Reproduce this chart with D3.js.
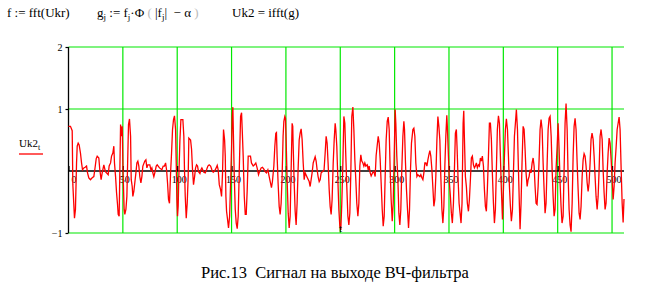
<!DOCTYPE html>
<html>
<head>
<meta charset="utf-8">
<script src="https://cdn.jsdelivr.net/npm/d3@7.9.0/dist/d3.min.js"></script>
<style>
  body { margin: 0; background: #fff; }
  svg { display: block; }
  text { font-family: "Liberation Serif", "DejaVu Serif", serif; fill: #000; white-space: pre; }
</style>
</head>
<body>
<svg id="chart" width="650" height="289"></svg>
<script>
// values (t, Uk2_t) at the turning points of the trace
const tSamples = [
  0, 1.8, 3.4, 4, 5.5, 6.4, 7.4, 8, 8.9, 9.8, 11, 12, 12.9, 14.1, 15.3, 16.6, 17.5, 18.7, 20.2, 21.8,
  23.3, 24.2, 25.5, 26.4, 27.9, 28.8, 30, 31, 32.5, 34, 36.5, 37.4, 38.7, 39.6, 40.8, 41.7, 42.3, 43.3, 44.2, 45.1,
  45.7, 46.6, 47.9, 48.8, 49.4, 50.3, 51.2, 51.8, 52.8, 53.7, 54.6, 55.2, 56.1, 57.1, 57.7, 58.6, 59.2, 60.1, 61, 62,
  62.9, 63.8, 64.7, 65.6, 66.6, 67.5, 68.4, 70.2, 71.2, 72.1, 73, 74.8, 75.8, 76.7, 77.6, 78.5, 79.4, 80.7, 81.6, 83.7,
  85.9, 87.1, 88.3, 89.3, 90.2, 91.1, 92, 92.9, 93.9, 94.8, 95.7, 96.6, 97.5, 98.5, 99.1, 99.7, 100.3, 100.9, 101.5, 102.5,
  103.4, 105.2, 106.1, 106.7, 107.4, 108.3, 109.2, 110.1, 110.7, 112.3, 113.2, 114.1, 115, 116, 116.9, 117.8, 118.7, 119.6, 120.9, 121.8,
  122.7, 124.5, 125.8, 127, 128.2, 129.4, 130.7, 131.9, 133.1, 134.4, 135.3, 136.8, 137.7, 138.7, 139.9, 140.8, 141.7, 142.6, 143.6, 144.2,
  144.8, 145.4, 146.3, 147.2, 148.2, 149.1, 150, 150.6, 151.2, 151.8, 152.5, 153.4, 154.3, 155.2, 156.1, 157.1, 158.3, 159.2, 159.8, 160.7,
  161.7, 162.6, 163.5, 164.4, 165.3, 167.4, 168.3, 169.9, 171.1, 172.3, 173.5, 174.8, 175.7, 177.2, 178.4, 179.7, 180.9, 182.1, 183.4, 184.6,
  185.8, 186.7, 187.6, 188.9, 189.8, 190.7, 191.3, 191.9, 192.8, 193.8, 194.7, 195.6, 196.5, 197.4, 198.1, 199, 199.6, 200.2, 201.1, 202.1,
  203, 203.9, 204.8, 205.7, 206.3, 206.6, 207.6, 208.5, 209.4, 210.3, 211.2, 212.2, 213.1, 214, 214.9, 215.9, 216.8, 217.7, 219.5, 221.4,
  222.3, 223.2, 224.1, 225.1, 226.9, 227.8, 228.7, 229.6, 230.6, 231.5, 232.4, 234.3, 235.1, 236.1, 237, 237.9, 238.8, 239.8, 240.7, 241.6,
  242.5, 243.5, 244.4, 245.3, 245.9, 246.8, 247.8, 248.7, 249.6, 250.5, 251.4, 252.4, 253.3, 254.2, 255.1, 256, 257, 257.9, 258.8, 259.7,
  260.6, 261.6, 262.5, 263.4, 264.3, 265.2, 266.2, 267.1, 268, 268.9, 269.8, 270.8, 271.7, 272.6, 273.5, 274.8, 275.7, 276.6, 277.5, 278.4,
  279.4, 280.3, 281.2, 282.1, 283, 283.9, 284.9, 285.8, 286.7, 287.6, 288.6, 289.5, 290.4, 291.3, 292.2, 293.2, 294.1, 295, 295.9, 296.8,
  297.8, 298.7, 299.6, 300.5, 301.1, 302, 303, 303.9, 304.8, 305.7, 306.6, 307.6, 308.5, 309.1, 310, 310.9, 311.8, 312.8, 313.7, 314.6,
  315.5, 316.8, 317.7, 318.6, 319.5, 320.5, 321.4, 323.2, 324.1, 325.1, 326, 326.9, 327.8, 328.7, 329.7, 330.6, 331.5, 332.4, 333.3, 334.3,
  335.2, 336.1, 337, 337.9, 338.9, 339.8, 340.7, 341.6, 342.5, 343.5, 344.4, 345.3, 346.2, 347.1, 348, 348.5, 349.5, 350.4, 351.3, 352.2,
  353.1, 354.1, 355, 355.9, 356.8, 357.4, 358.4, 359.3, 360.2, 361.1, 362, 363, 363.6, 364.2, 365.1, 366, 366.9, 367.9, 368.8, 369.7,
  370.6, 371.5, 372.5, 373.4, 374.3, 375.2, 376.1, 377.1, 378, 378.9, 379.8, 380.7, 381.7, 382.6, 383.5, 384.4, 385.3, 386.3, 387.2, 388.1,
  389, 389.9, 390.9, 391.8, 392.7, 393.6, 394.5, 395.5, 396.4, 397.3, 398.2, 399.2, 400.1, 401, 401.9, 402.8, 403.8, 404.7, 405.6, 406.5,
  407.4, 408.4, 409.3, 410.2, 411.1, 412, 413, 413.9, 414.8, 415.4, 416.3, 417.2, 418.2, 419.1, 420, 420.9, 421.9, 422.8, 423.7, 424.6,
  425.5, 426.5, 427.4, 428.3, 429.2, 430.1, 431, 432, 432.9, 433.8, 434.7, 435.7, 436.6, 437.5, 438.4, 439.3, 440.3, 441.2, 442.1, 443,
  444, 444.9, 445.8, 446.7, 447.6, 448.5, 449.5, 450.4, 451.3, 452.2, 453.1, 454, 455, 455.9, 456.8, 457.7, 458.7, 459.6, 460.5, 461.4,
  462.3, 463.3, 464.2, 465.1, 466, 466.9, 467.9, 468.8, 469.7, 470.6, 471.5, 472.5, 473.4, 474.3, 475.2, 476.1, 477.1, 478, 478.9, 479.8,
  480.7, 481.6, 482.6, 483.5, 484.4, 485.3, 486.3, 487.2, 488.1, 489, 489.9, 490.9, 491.8, 492.7, 493.6, 494.5, 495.5, 496.4, 497.3, 498.2,
  499.2, 500.1, 501, 501.9, 502.8, 503.8, 504.7, 505.6, 506.5, 507.4, 508.4, 509.3, 510.2, 511
];
const uk2Values = [
  0.72, 0.72, 0.65, -0.22, -0.76, -0.62, 0.13, 0.4, 0.45, 0.42, 0.29, 0.13, 0.02, 0.05, 0.06, 0.08, -0.03, -0.11, -0.14, -0.11,
  -0.09, 0.02, 0.2, 0.24, 0.21, 0.02, -0.14, -0.03, 0.1, -0.01, -0.06, 0.08, 0.13, 0.24, 0.29, 0.4, 0.13, -0.09, -0.35, -0.54,
  -0.7, -0.73, 0.75, 0.56, 0.72, -0.09, -0.62, -0.7, -0.62, -0.41, 0.29, 0.75, 0.84, 0.56, -0.14, -0.25, -0.41, -0.33, -0.19, -0.03,
  0.13, 0.16, 0.08, -0.09, -0.19, -0.09, 0.08, 0.16, 0.18, 0.05, 0.1, 0.1, 0.02, 0.05, -0.03, -0.09, -0.03, 0.08, 0.1, 0.05,
  0.02, 0.08, 0.08, 0.13, 0.02, -0.19, -0.46, -0.52, -0.03, 0.29, 0.67, 0.83, 0.89, 0.67, 0.13, -0.46, -0.73, -0.57, -0.09, 0.5,
  0.83, 0.83, 0.56, 0.02, -0.41, -0.76, -0.52, -0.09, 0.53, 0.5, 0.35, 0.02, -0.22, -0.09, 0.05, 0.1, 0.08, -0.01, -0.04, 0.02,
  0.05, -0.02, -0.03, 0.02, 0.08, 0.1, 0.08, 0.02, -0.02, 0.0, 0.03, 0.09, 0.02, -0.22, -0.3, -0.41, -0.03, 0.67, 0.5, 0.24,
  -0.41, -0.65, -0.78, -0.92, -0.73, -0.2, 0.37, 0.88, 1.03, 0.5, -0.09, -0.62, -0.84, -0.93, -0.73, 0.02, 0.88, 0.94, 0.67, 0.24,
  -0.41, -0.7, -0.7, -0.3, 0.24, 0.24, 0.13, 0.08, 0.1, 0.13, 0.05, -0.06, -0.01, 0.05, 0.06, 0.03, -0.01, -0.03, 0.02, -0.09,
  -0.19, -0.27, -0.17, 0.08, 0.4, 0.61, 0.62, 0.24, -0.19, -0.57, -0.7, -0.52, -0.09, 0.56, 0.8, 0.88, 0.85, 0.5, -0.14, -0.68,
  -0.92, -0.73, 0.02, 0.77, 0.72, 0.45, -0.19, -0.65, -0.87, -0.52, 0.02, 0.5, 0.61, 0.68, 0.51, 0.13, -0.14, -0.03, -0.1, -0.17,
  -0.25, -0.14, -0.03, 0.13, 0.23, 0.16, 0.02, -0.09, -0.17, -0.14, -0.03, 0.0, 0.02, 0.29, 0.56, 0.45, 0.13, -0.3, -0.57, -0.7,
  -0.46, 0.13, 0.5, 0.77, 0.67, 0.4, -0.14, -0.62, -0.89, -0.95, -0.52, 0.13, 0.88, 0.77, 0.24, -0.25, -0.73, -0.87, -0.68, -0.03,
  0.88, 1.03, 0.67, 0.18, -0.14, -0.52, -0.73, -0.52, 0.08, 0.26, 0.16, 0.13, 0.08, 0.13, 0.08, 0.1, 0.02, 0.08, -0.03, -0.08,
  -0.04, -0.01, -0.03, -0.09, 0.25, 0.4, 0.56, 0.45, 0.19, -0.19, -0.62, -0.89, -0.73, -0.09, 0.5, 0.8, 0.87, 0.67, 0.02, -0.46,
  -0.81, -0.52, 0.24, 0.99, 0.77, 0.24, -0.14, -0.68, -0.87, -0.62, 0.02, 0.56, 0.8, 0.67, 0.13, -0.3, -0.6, -0.92, -0.62, 0.02,
  0.45, 0.67, 0.69, 0.56, 0.13, -0.09, -0.06, -0.09, -0.06, -0.11, -0.14, -0.03, 0.13, 0.13, 0.08, 0.18, 0.26, 0.33, 0.24, 0.02,
  -0.27, -0.57, -0.46, -0.09, 0.5, 0.88, 0.72, 0.5, -0.09, -0.62, -0.84, -0.57, 0.08, 0.56, 0.9, 0.72, 0.24, -0.19, -0.41, -0.68,
  -0.84, -0.52, 0.02, 0.61, 0.67, 0.4, -0.14, -0.52, -0.68, -0.84, -0.52, 0.77, 0.97, 0.53, -0.09, -0.25, -0.52, -0.65, -0.46, -0.14,
  0.21, 0.24, 0.1, 0.05, 0.08, 0.13, 0.05, 0.1, 0.08, 0.21, 0.16, 0.24, 0.08, -0.3, -0.57, -0.65, -0.3, 0.24, 0.77, 0.77,
  0.51, -0.03, -0.52, -0.84, -0.62, 0.02, 0.67, 0.89, 0.77, 0.24, -0.3, -0.78, -0.3, 0.24, 0.67, 0.84, 0.67, 0.24, -0.25, -0.57,
  -0.81, -0.62, -0.03, 0.56, 0.77, 0.99, 0.67, 0.02, -0.57, -0.94, -0.52, 0.13, 0.72, 0.67, 0.35, -0.03, -0.25, -0.14, -0.09, 0.02,
  -0.03, 0.13, 0.21, 0.08, -0.25, -0.52, -0.54, -0.25, 0.18, 0.67, 0.83, 0.67, 0.13, -0.3, -0.68, -0.52, 0.13, 0.67, 0.85, 0.88,
  0.56, 0.02, -0.41, -0.73, -0.62, 0.02, 0.4, 0.77, 0.35, -0.19, -0.57, -0.84, -0.73, 0.02, 0.77, 1.09, 0.67, -0.09, -0.62, -0.87,
  -0.98, -0.52, 0.24, 0.72, 0.85, 0.67, 0.13, -0.3, -0.68, -0.78, -0.57, -0.09, 0.18, 0.28, 0.24, 0.08, -0.19, -0.33, -0.19, 0.13,
  0.51, 0.61, 0.51, 0.24, -0.09, -0.41, -0.62, -0.41, 0.02, 0.56, 0.67, 0.51, 0.02, -0.35, -0.62, -0.52, -0.03, 0.29, 0.53, 0.45,
  0.18, -0.14, -0.46, -0.25, 0.13, 0.4, 0.67, 0.77, 0.87, 0.67, 0.02, -0.52, -0.83, -0.45
];
const xTicks = [0, 50, 100, 150, 200, 250, 300, 350, 400, 450, 500];
const yTicks = [-1, 1, 2];
const xGrid = [50, 100, 150, 200, 250, 300, 350, 400, 450, 500];

const svg = d3.select('#chart');
const x = d3.scaleLinear().domain([0, 511]).range([68.5, 624]);
const y = d3.scaleLinear().domain([-1, 2]).range([233, 47]);
const green = '#00e800';

// formulas above the plot
svg.append('text').attr('x', 7).attr('y', 17).attr('font-size', 13).text('f := fft(Ukr)');
const gFormula = svg.append('text').attr('x', 97).attr('y', 17).attr('font-size', 13);
gFormula.append('tspan').text('g');
gFormula.append('tspan').attr('font-size', 9).attr('dy', 3).text('j');
gFormula.append('tspan').attr('dy', -3).text(' := f');
gFormula.append('tspan').attr('font-size', 9).attr('dy', 3).text('j');
gFormula.append('tspan').attr('dy', -3).text('\u00b7\u03a6');
gFormula.append('tspan').attr('fill', '#bbb').text(' ( ');
gFormula.append('tspan').text('|f');
gFormula.append('tspan').attr('font-size', 9).attr('dy', 3).text('j');
gFormula.append('tspan').attr('dy', -3).text('|  \u2212 \u03b1');
gFormula.append('tspan').attr('fill', '#bbb').text(' )');
svg.append('text').attr('x', 232).attr('y', 17).attr('font-size', 13).text('Uk2 = ifft(g)');

// grid
svg.append('g')
    .selectAll('line')
    .data(xGrid)
    .enter()
    .append('line')
    .attr('x1', (d) => x(d)).attr('x2', (d) => x(d))
    .attr('y1', y(-1)).attr('y2', y(2))
    .attr('stroke', green).attr('stroke-width', 1.2);
svg.append('g')
    .selectAll('line')
    .data(yTicks)
    .enter()
    .append('line')
    .attr('x1', x(0)).attr('x2', x(511))
    .attr('y1', (d) => y(d)).attr('y2', (d) => y(d))
    .attr('stroke', green).attr('stroke-width', 1.2);

// axes
const yAxis = svg.append('g')
    .attr('transform', `translate(${x(0)},0)`)
    .call(d3.axisLeft(y).tickValues(yTicks).tickSize(3).tickPadding(3).tickFormat(d3.format('d')));
const xAxis = svg.append('g')
    .attr('transform', `translate(0,${y(0)})`)
    .call(d3.axisBottom(x).tickValues(xTicks).tickSize(-5).tickPadding(5));
[yAxis, xAxis].forEach((a) => {
    a.select('.domain').attr('stroke', '#000').attr('stroke-width', 1.3);
    a.selectAll('.tick line').attr('stroke', '#000').attr('stroke-width', 1.2);
    a.selectAll('.tick text')
        .attr('font-family', '"Liberation Serif", serif')
        .attr('font-size', 10)
        .attr('fill', '#000');
});
xAxis.select('.domain').attr('d', `M${x(0)},0H${x(511)}`);
yAxis.select('.domain').attr('d', `M0,${y(-1)}V${y(2)}`);
xAxis.selectAll('.tick text').attr('dx', (d) => (d === 0 ? 5 : 1.5));

// signal
const pts = tSamples.map((t, i) => [t, uk2Values[i]]);
svg.append('path')
    .datum(pts)
    .attr('fill', 'none')
    .attr('stroke', '#ff0000')
    .attr('stroke-width', 1.3)
    .attr('d', d3.line().x((d) => x(d[0])).y((d) => y(d[1])));

// legend
const lg = svg.append('text').attr('x', 19).attr('y', 147).attr('font-size', 11);
lg.append('tspan').text('Uk2');
lg.append('tspan').attr('font-size', 8).attr('dy', 3).text('t');
svg.append('line')
    .attr('x1', 19).attr('x2', 43).attr('y1', 154).attr('y2', 154)
    .attr('stroke', '#ff0000').attr('stroke-width', 1.3);

// axis title and caption
svg.append('text').attr('x', 339).attr('y', 232).attr('font-size', 11).text('t');
svg.append('text').attr('x', 201).attr('y', 278).attr('font-size', 16.5)
    .text('Рис.13  Сигнал на выходе ВЧ-фильтра');
</script>
</body>
</html>
